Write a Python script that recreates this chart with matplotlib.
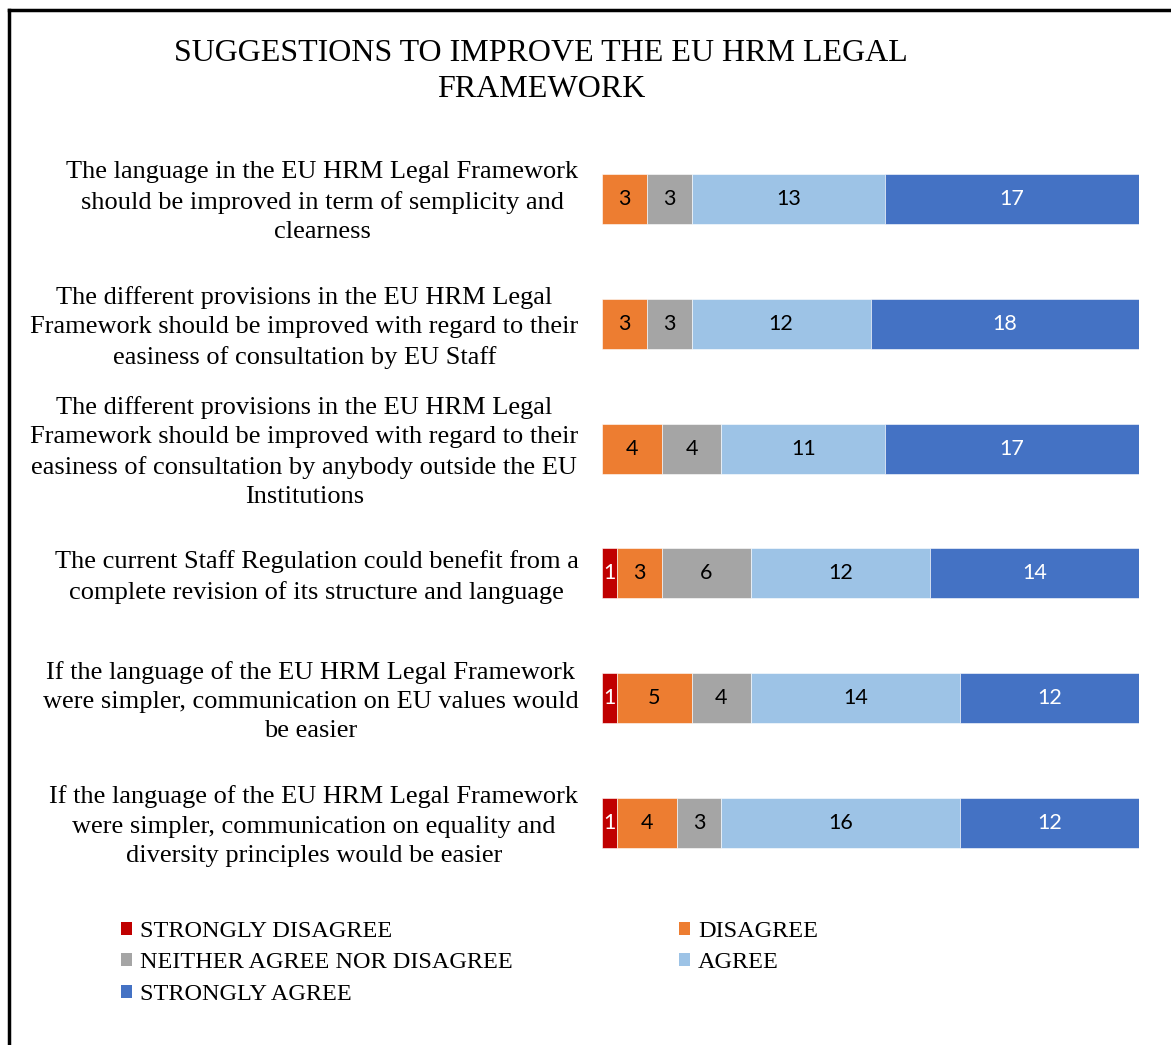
import matplotlib.pyplot as plt
import matplotlib.transforms as mtransforms
from matplotlib.lines import Line2D
from matplotlib.patches import Patch
import numpy as np

plt.rcParams['font.family'] = ['Liberation Serif', 'DejaVu Serif']

# statements (top to bottom)
statements = [
    "The language in the EU HRM Legal Framework\nshould be improved in term of semplicity and\nclearness",
    "The different provisions in the EU HRM Legal\nFramework should be improved with regard to their\neasiness of consultation by EU Staff",
    "The different provisions in the EU HRM Legal\nFramework should be improved with regard to their\neasiness of consultation by anybody outside the EU\nInstitutions",
    "The current Staff Regulation could benefit from a\ncomplete revision of its structure and language",
    "If the language of the EU HRM Legal Framework\nwere simpler, communication on EU values would\nbe easier",
    "If the language of the EU HRM Legal Framework\nwere simpler, communication on equality and\ndiversity principles would be easier",
]

categories = ["STRONGLY DISAGREE", "DISAGREE", "NEITHER AGREE NOR DISAGREE", "AGREE", "STRONGLY AGREE"]
colors = ["#C00000", "#ED7D31", "#A5A5A5", "#9DC3E6", "#4472C4"]
text_colors = ["white", "black", "black", "black", "white"]

strongly_disagree = [0, 0, 0, 1, 1, 1]
disagree = [3, 3, 4, 3, 5, 4]
neutral = [3, 3, 4, 6, 4, 3]
agree = [13, 12, 11, 12, 14, 16]
strongly_agree = [17, 18, 17, 14, 12, 12]

series = [strongly_disagree, disagree, neutral, agree, strongly_agree]

W, H = 1171, 1045
fig = plt.figure(figsize=(W / 100, H / 100), dpi=100)

# axes placed in pixel terms of the reference
ax_left, ax_right = 602, 1139
ax_top, ax_bottom = 136.6, 885.4
ax = fig.add_axes([ax_left / W, 1 - ax_bottom / H, (ax_right - ax_left) / W, (ax_bottom - ax_top) / H])

y = np.arange(len(statements))
left = np.zeros(len(statements))
for vals, col, tcol, name in zip(series, colors, text_colors, categories):
    vals = np.array(vals, dtype=float)
    bars = ax.barh(y, vals, left=left, height=0.4, color=col, edgecolor='white', linewidth=0.4, label=name)
    for b, v in zip(bars, vals):
        if v > 0:
            ax.text(b.get_x() + b.get_width() / 2, b.get_y() + b.get_height() / 2, f"{int(v)}",
                    ha='center', va='center', color=tcol, fontsize=15.5, family='Lato')
    left += vals

ax.set_xlim(0, 36)
ax.set_ylim(len(statements) - 0.5, -0.5)
ax.set_yticks(y)
ax.set_yticklabels(statements, fontsize=19, multialignment='center', linespacing=1.43)
ax.tick_params(axis='y', length=0, pad=17)
# nudge the statement labels up a little
shift = mtransforms.ScaledTranslation(0, 0.03, fig.dpi_scale_trans)
for lab in ax.get_yticklabels():
    lab.set_transform(lab.get_transform() + shift)
ax.set_xticks([])
for s in ax.spines.values():
    s.set_visible(False)

fig.text(541 / W, 1 - 71.5 / H, "SUGGESTIONS TO IMPROVE THE EU HRM LEGAL\nFRAMEWORK",
         ha='center', va='center', fontsize=23, linespacing=1.33)

# legend: reorder so it fills row by row like the reference
order = [0, 2, 4, 1, 3]
handles = [Patch(facecolor=colors[i]) for i in order]
labels = [categories[i] for i in order]
fig.legend(handles, labels, ncol=2, loc='upper left', bbox_to_anchor=(121 / W, 1 - 921 / H),
           frameon=False, fontsize=17.5, handlelength=0.45, handleheight=0.45, handletextpad=0.33,
           columnspacing=6.85, labelspacing=0.43, borderpad=0, borderaxespad=0)

# frame lines on left and top
fig.add_artist(Line2D([9 / W, 9 / W], [0, 1 - 10 / H], color='black', linewidth=2.5, transform=fig.transFigure))
fig.add_artist(Line2D([9 / W, 1], [1 - 10 / H, 1 - 10 / H], color='black', linewidth=2.5, transform=fig.transFigure))

fig.savefig("out.png", dpi=100)
